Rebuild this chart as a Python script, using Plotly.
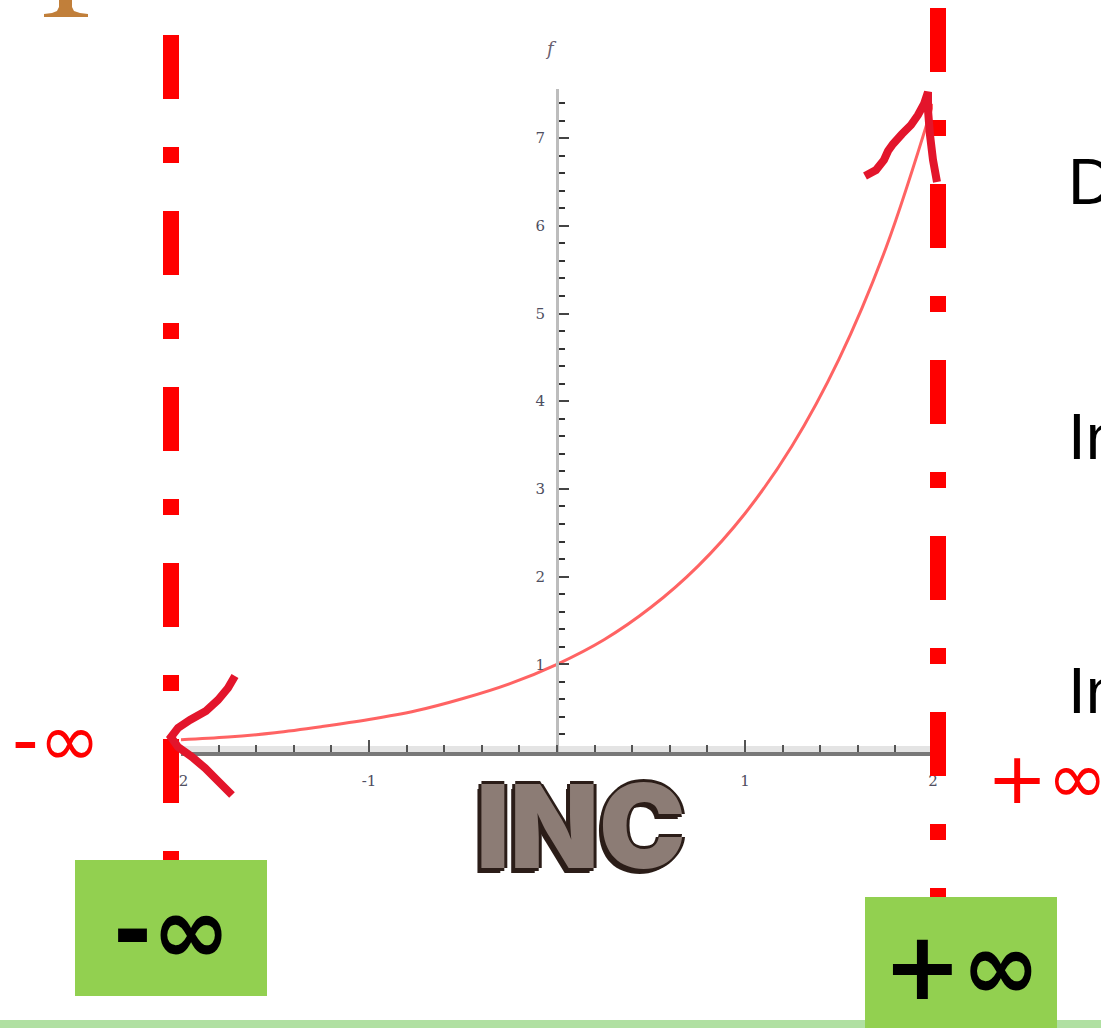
import plotly.graph_objects as go

# Sampled curve values
x_vals = [-2.0, -1.75, -1.5, -1.25, -1.0, -0.75, -0.5, -0.25, 0.0,
          0.25, 0.5, 0.75, 1.0, 1.25, 1.5, 1.75, 2.0]
y_vals = [0.14, 0.17, 0.22, 0.29, 0.37, 0.47, 0.61, 0.78, 1.0,
          1.28, 1.65, 2.12, 2.72, 3.49, 4.48, 5.75, 7.39]

# Tick labels
x_tickvals = [-2, -1, 1, 2]
x_ticktext = ["-2", "-1", "1", "2"]
y_tickvals = [1, 2, 3, 4, 5, 6, 7]
y_ticktext = ["1", "2", "3", "4", "5", "6", "7"]

# Labels around the plot
left_limit_label = "-∞"
right_limit_label = "+∞"
trend_label = "INC"
side_labels = ["D", "In", "In"]

W, H = 1101, 1028


def px(x):
    return x / W


def py(y):
    return 1 - y / H


def path_from(points):
    pts = [(px(a), py(b)) for a, b in points]
    d = "M {:.5f},{:.5f}".format(*pts[0])
    for a, b in pts[1:]:
        d += " L {:.5f},{:.5f}".format(a, b)
    return d


fig = go.Figure()

fig.add_trace(go.Scatter(
    x=x_vals, y=y_vals, mode="lines",
    line=dict(color="rgba(255,60,60,0.8)", width=3, shape="spline"),
    hoverinfo="skip", showlegend=False,
))

shapes = []

# light band above the x axis
shapes.append(dict(type="rect", xref="paper", yref="paper",
                   x0=px(181), x1=px(936), y0=py(753), y1=py(746),
                   fillcolor="#e4e4e4", line=dict(width=0), layer="below"))

# dash-dot vertical guides
dash = "64px,48px,16px,48px"
shapes.append(dict(type="line", xref="paper", yref="paper",
                   x0=px(171), x1=px(171), y0=py(35), y1=py(862),
                   line=dict(color="#ff0000", width=16, dash=dash)))
shapes.append(dict(type="line", xref="paper", yref="paper",
                   x0=px(938), x1=px(938), y0=py(8), y1=py(899),
                   line=dict(color="#ff0000", width=16, dash=dash)))

# hand-drawn arrow heads
stroke = dict(color="#e3152b", width=8)
shapes.append(dict(type="path", xref="paper", yref="paper",
                   path=path_from([(865, 176), (876, 170), (884, 160), (888, 151),
                                   (893, 144), (902, 134), (911, 125), (918, 115),
                                   (924, 104), (928, 92), (928, 110), (930, 135),
                                   (933, 160), (937, 182)]),
                   line=stroke))
shapes.append(dict(type="path", xref="paper", yref="paper",
                   path=path_from([(235, 676), (228, 688), (218, 700), (206, 711),
                                   (190, 720), (178, 728), (171, 737), (178, 747),
                                   (192, 757), (205, 768), (218, 781), (232, 795)]),
                   line=stroke))

# green limit boxes
shapes.append(dict(type="rect", xref="paper", yref="paper",
                   x0=px(75), x1=px(267), y0=py(860), y1=py(996),
                   fillcolor="#92d050", line=dict(width=0)))
shapes.append(dict(type="rect", xref="paper", yref="paper",
                   x0=px(865), x1=px(1057), y0=py(897), y1=py(1030),
                   fillcolor="#92d050", line=dict(width=0)))

# bottom strip
shapes.append(dict(type="rect", xref="paper", yref="paper",
                   x0=0, x1=1, y0=py(1020), y1=py(1030),
                   fillcolor="#b0e0a2", line=dict(width=0), layer="below"))

# ornament at the top left
shapes.append(dict(type="path", xref="paper", yref="paper",
                   path=path_from([(59, 0), (72, 0), (72, 7), (74, 11), (80, 13),
                                   (88, 14), (88, 17), (44, 17), (44, 14), (52, 13),
                                   (57, 11), (59, 7)]) + " Z",
                   fillcolor="#c17f3a", line=dict(width=0)))

annotations = []
# red infinity labels beside the axis
annotations.append(dict(xref="paper", yref="paper", x=px(56), y=py(740),
                        text=left_limit_label, showarrow=False,
                        xanchor="center", yanchor="middle",
                        font=dict(family="DejaVu Sans", size=74, color="#ff0000")))
annotations.append(dict(xref="paper", yref="paper", x=px(985), y=py(778),
                        text=right_limit_label, showarrow=False,
                        xanchor="left", yanchor="middle",
                        font=dict(family="DejaVu Sans", size=72, color="#ff0000")))
# labels inside the green boxes
annotations.append(dict(xref="paper", yref="paper", x=px(171), y=py(930),
                        text="<b>" + left_limit_label + "</b>", showarrow=False,
                        xanchor="center", yanchor="middle",
                        font=dict(family="DejaVu Sans", size=94, color="#000000")))
annotations.append(dict(xref="paper", yref="paper", x=px(961), y=py(966),
                        text="<b>" + right_limit_label + "</b>", showarrow=False,
                        xanchor="center", yanchor="middle",
                        font=dict(family="DejaVu Sans", size=94, color="#000000")))
# trend word, shadow then face
annotations.append(dict(xref="paper", yref="paper", x=px(577), y=py(831),
                        text=trend_label, showarrow=False,
                        xanchor="center", yanchor="middle",
                        font=dict(family="Inter", size=116, color="#2b1d18", weight=900)))
annotations.append(dict(xref="paper", yref="paper", x=px(581), y=py(826),
                        text=trend_label, showarrow=False,
                        xanchor="center", yanchor="middle",
                        font=dict(family="Inter", size=116, color="#8c7c75", weight=900,
                                  shadow="3px 0 0 #2b1d18, -3px 0 0 #2b1d18, 0 3px 0 #2b1d18, 0 -3px 0 #2b1d18")))
# side text cut off by the right edge
for txt, yy in zip(side_labels, [182, 437, 691]):
    annotations.append(dict(xref="paper", yref="paper", x=px(1066), y=py(yy),
                            text=txt, showarrow=False,
                            xanchor="left", yanchor="middle",
                            font=dict(family="Liberation Sans", size=64, color="#000000")))
# axis name at the top of the vertical axis
annotations.append(dict(xref="paper", yref="paper", x=px(551), y=py(48),
                        text="<i>f</i>", showarrow=False,
                        xanchor="center", yanchor="middle",
                        font=dict(family="DejaVu Serif", size=18, color="#6a6070")))

fig.update_layout(
    width=W, height=H,
    margin=dict(l=0, r=0, t=0, b=0, pad=0, autoexpand=False),
    paper_bgcolor="white", plot_bgcolor="rgba(0,0,0,0)",
    showlegend=False,
    shapes=shapes, annotations=annotations,
    xaxis=dict(
        domain=[px(181), px(933)], range=[-2, 2], anchor="y",
        showgrid=False, zeroline=False, automargin=False,
        showline=True, linecolor="#787878", linewidth=4,
        ticks="inside", ticklen=12, tickwidth=2, tickcolor="#555555",
        tickvals=x_tickvals, ticktext=x_ticktext, ticklabelstandoff=12,
        tickfont=dict(family="DejaVu Serif", size=15, color="#4e4e60"),
        minor=dict(dtick=0.2, tick0=0, ticks="inside", ticklen=7,
                   tickwidth=2, tickcolor="#555555", showgrid=False),
    ),
    yaxis=dict(
        domain=[py(752), py(89)], range=[0, 7.56], anchor="free",
        position=px(557), automargin=False,
        showgrid=False, zeroline=False,
        showline=True, linecolor="#bdbdbd", linewidth=3,
        ticks="inside", ticklen=10, tickwidth=2, tickcolor="#444444",
        tickvals=y_tickvals, ticktext=y_ticktext, ticklabelstandoff=8,
        tickfont=dict(family="DejaVu Serif", size=15, color="#4e4e60"),
        minor=dict(dtick=0.2, tick0=0, ticks="inside", ticklen=6,
                   tickwidth=2, tickcolor="#333333", showgrid=False),
    ),
)

fig.write_html("out.html")
